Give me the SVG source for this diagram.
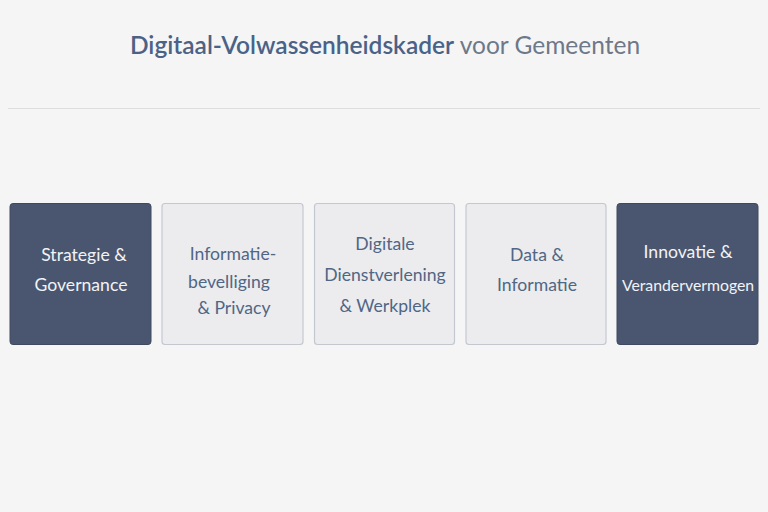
<svg xmlns="http://www.w3.org/2000/svg" width="768" height="512" viewBox="0 0 768 512">
<style>
.dark rect{fill:#4a5670;stroke:#3f4a61;stroke-width:1}
.light rect{fill:#ececee;stroke:#c3c8d0;stroke-width:1.2}
.dark text{fill:#f2f3f6}
.light text{fill:#506685}
text{font-family:Lato,"Open Sans","Liberation Sans",sans-serif;font-size:17.6px;text-anchor:middle}
</style>
<rect width="768" height="512" fill="#f5f5f5"/>
<g id="title">
<text x="385" y="54" style="font-size:24.5px"><tspan fill="#4b6287" font-weight="600">Digitaal-Volwassenheidskader</tspan><tspan fill="#6e7888"> voor Gemeenten</tspan></text>
</g>
<line x1="8" y1="108.5" x2="760" y2="108.5" stroke="#dedede" stroke-width="1.2"/>
<g id="node1" class="dark">
<rect x="10" y="203.5" width="141" height="141" rx="3"/>
<text x="84" y="261">Strategie &amp;</text>
<text x="81" y="291">Governance</text>
</g>
<g id="node2" class="light">
<rect x="162" y="203.5" width="141" height="141" rx="3"/>
<text x="233" y="260">Informatie-</text>
<text x="229" y="288">bevelliging</text>
<text x="234" y="314">&amp; Privacy</text>
</g>
<g id="node3" class="light">
<rect x="314.5" y="203.5" width="140" height="141" rx="3"/>
<text x="385" y="250">Digitale</text>
<text x="385" y="281">Dienstverlening</text>
<text x="385" y="312">&amp; Werkplek</text>
</g>
<g id="node4" class="light">
<rect x="466" y="203.5" width="140" height="141" rx="3"/>
<text x="537" y="261">Data &amp;</text>
<text x="537" y="291">Informatie</text>
</g>
<g id="node5" class="dark">
<rect x="617" y="203.5" width="141" height="141" rx="3"/>
<text x="688" y="258">Innovatie &amp;</text>
<text x="688" y="291" style="font-size:15.8px">Verandervermogen</text>
</g>
<g id="connectors"></g>
</svg>
